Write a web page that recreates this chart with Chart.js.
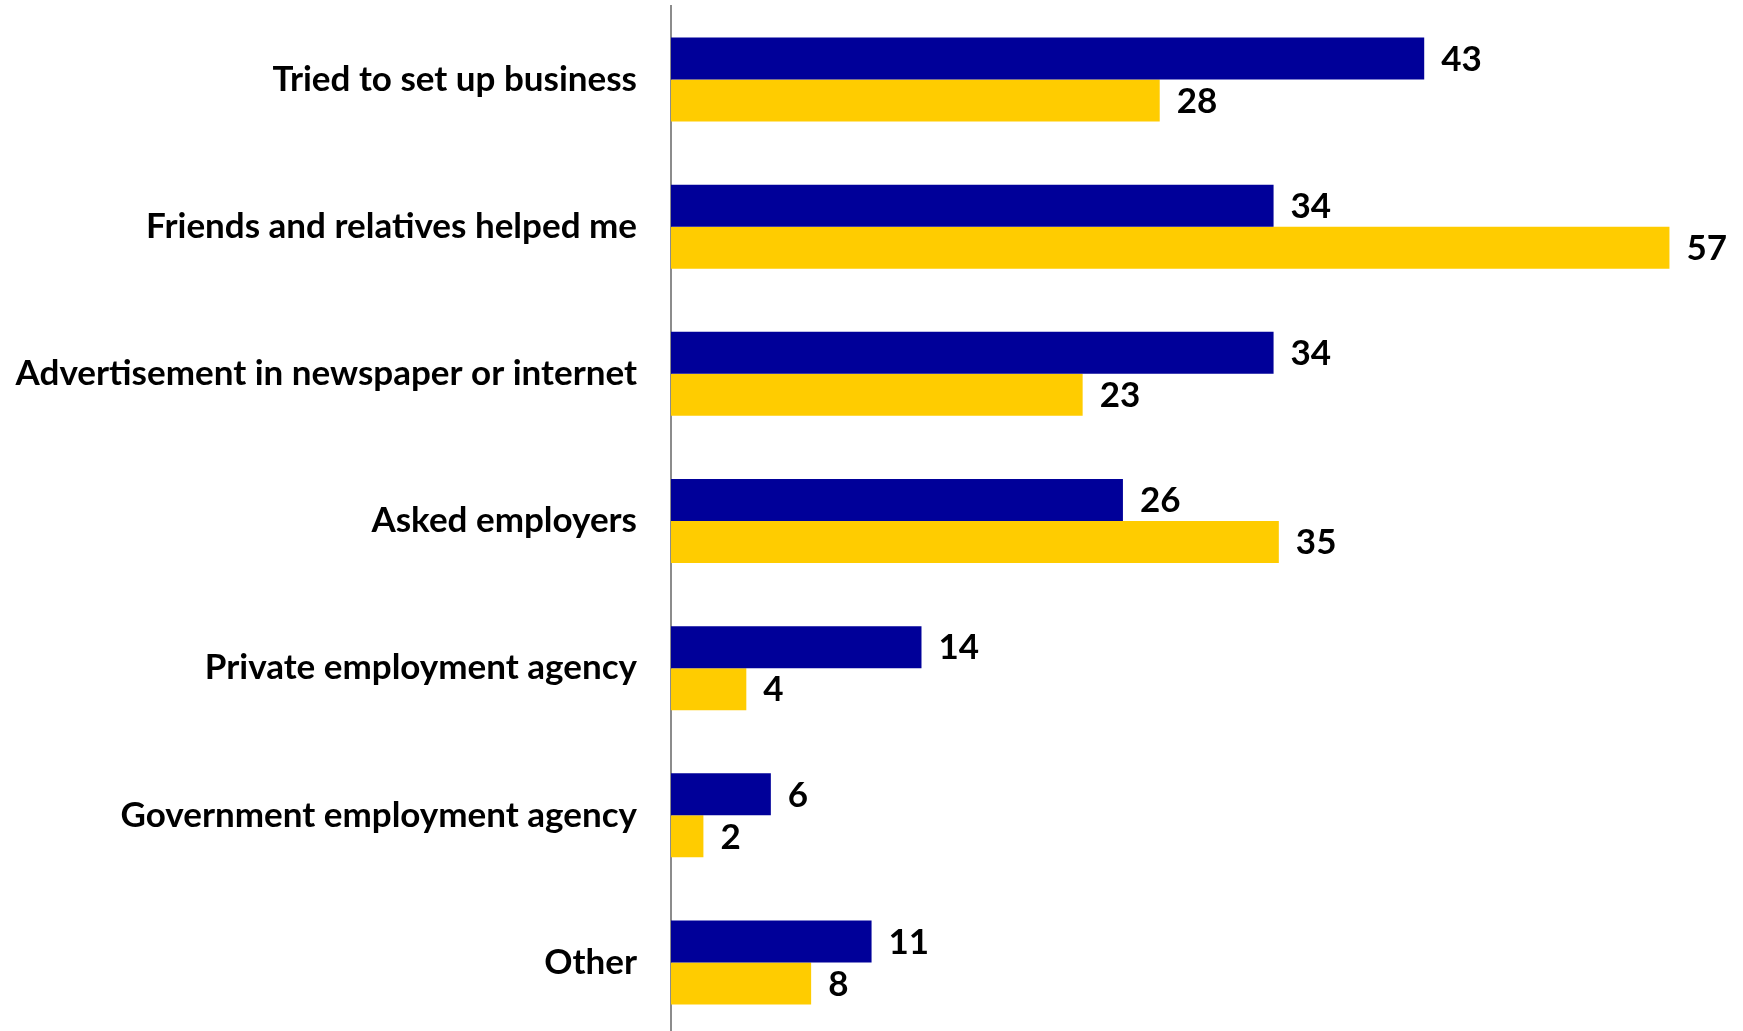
<!DOCTYPE html>
<html>
<head>
<meta charset="utf-8">
<script src="https://cdn.jsdelivr.net/npm/chart.js@4"></script>
<style>
  html, body { margin: 0; padding: 0; background: #fff; overflow: hidden; }
  canvas { display: block; }
</style>
</head>
<body>
<canvas id="myChart" width="1743" height="1036"></canvas>
<script>
const categories = [
  'Tried to set up business',
  'Friends and relatives helped me',
  'Advertisement in newspaper or internet',
  'Asked employers',
  'Private employment agency',
  'Government employment agency',
  'Other'
];
// bar lengths
const seriesBlue = [43.0, 34.4, 34.4, 25.8, 14.3, 5.7, 11.45];
const seriesYellow = [27.9, 57.0, 23.5, 34.7, 4.3, 1.85, 8.0];
// the numbers printed next to the bars
const printedBlue = [43, 34, 34, 26, 14, 6, 11];
const printedYellow = [28, 57, 23, 35, 4, 2, 8];

const labelFont = { family: 'Lato', size: 35, weight: 'bold' };

// draws the value to the right of each bar
const valueLabels = {
  id: 'valueLabels',
  afterDatasetsDraw(chart) {
    const ctx = chart.ctx;
    const printed = [printedBlue, printedYellow];
    ctx.save();
    ctx.font = 'bold 35px Lato';
    ctx.fillStyle = '#000';
    ctx.textAlign = 'left';
    ctx.textBaseline = 'middle';
    chart.data.datasets.forEach((ds, i) => {
      chart.getDatasetMeta(i).data.forEach((bar, j) => {
        ctx.fillText(String(printed[i][j]), bar.x + 17, bar.y + 1);
      });
    });
    ctx.restore();
  }
};

const ctx = document.getElementById('myChart').getContext('2d');
const myChart = new Chart(ctx, {
  type: 'bar',
  data: {
    labels: categories,
    datasets: [
      { label: 'A', data: seriesBlue, backgroundColor: '#000099', categoryPercentage: 0.571, barPercentage: 1 },
      { label: 'B', data: seriesYellow, backgroundColor: '#FFCC00', categoryPercentage: 0.571, barPercentage: 1 }
    ]
  },
  options: {
    indexAxis: 'y',
    responsive: false,
    maintainAspectRatio: false,
    animation: false,
    layout: { padding: { top: 6, right: 21, bottom: 0, left: 0 } },
    scales: {
      x: {
        min: 0,
        max: 60,
        display: false
      },
      y: {
        afterFit: (s) => {
          s.width = 671;
          // the tick padding otherwise pushes the plot down from the top
          s.paddingTop = 0;
          s.paddingBottom = 0;
        },
        grid: { display: false, drawTicks: false },
        border: { display: true, color: '#8c8c8c', width: 2 },
        ticks: { color: '#000', font: labelFont, padding: 34 }
      }
    },
    plugins: {
      legend: { display: false },
      tooltip: { enabled: false }
    }
  },
  plugins: [valueLabels]
});
</script>
</body>
</html>
